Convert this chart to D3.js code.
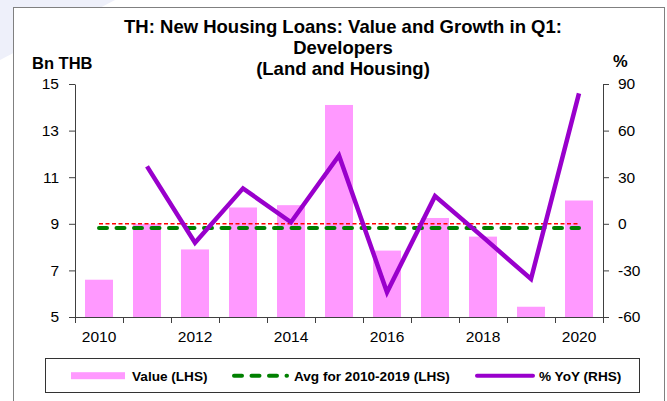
<!DOCTYPE html>
<html>
<head>
<meta charset="utf-8">
<script src="https://cdn.jsdelivr.net/npm/d3@7"></script>
<style>
  body { margin: 0; background: #fff; }
  text { font-family: "Liberation Sans", Arial, sans-serif; fill: #000; }
  .axis path, .axis line { stroke: #404040; }
  .axis text { font-size: 15.5px; }
</style>
</head>
<body>
<div id="main"></div>
<script>
const years = [2010, 2011, 2012, 2013, 2014, 2015, 2016, 2017, 2018, 2019, 2020];
const valueLHS = [6.6, 9.0, 7.9, 9.7, 9.8, 14.1, 7.85, 9.25, 8.45, 5.44, 10.0];
const yoyRHS = [null, 37, -12.2, 22.8, 1.0, 44, -44, 17.8, -8.6, -35.5, 84];
const avgLHS = 8.82;   // avg for 2010-2019
const leftTicks = [5, 7, 9, 11, 13, 15];
const rightTicks = [-60, -30, 0, 30, 60, 90];
const yearLabels = [2010, 2012, 2014, 2016, 2018, 2020];
const titleLines = ["TH: New Housing Loans: Value and Growth in Q1:", "Developers", "(Land and Housing)"];
const legendItems = ["Value (LHS)", "Avg for 2010-2019 (LHS)", "% YoY (RHS)"];

const ctx = {
    w: 667,
    h: 401,
    left: 75,
    right: 603,
    top: 84,
    bottom: 317,
    BAR_COLOR: "#FF99FF",
    AVG_COLOR: "#008000",
    YOY_COLOR: "#9900CC",
};

const svg = d3.select("#main").append("svg")
              .attr("width", ctx.w)
              .attr("height", ctx.h);

// faint background decoration at top-left
svg.append("polygon")
   .attr("points", "0,0 115,0 0,60")
   .attr("fill", "#EEF0FA");

// outer chart frame
svg.append("rect")
   .attr("x", 13.5).attr("y", 7.5)
   .attr("width", 651).attr("height", 410)
   .attr("fill", "#fff")
   .attr("stroke", "#808080");

const x = d3.scaleBand().domain(years)
            .range([ctx.left, ctx.right])
            .paddingInner(0.417).paddingOuter(0.2085);
const xEdge = d3.scaleLinear().domain([0, years.length]).range([ctx.left, ctx.right]);
const yL = d3.scaleLinear().domain([5, 15]).range([ctx.bottom, ctx.top]);
const yR = d3.scaleLinear().domain([-60, 90]).range([ctx.bottom, ctx.top]);
const cx = (yr) => x(yr) + x.bandwidth() / 2;
const plain = (d) => String(d);  // keep ascii hyphen for negatives

// bars
svg.append("g").selectAll("rect")
   .data(years)
   .enter().append("rect")
   .attr("x", (d) => x(d))
   .attr("width", x.bandwidth())
   .attr("y", (d, i) => yL(valueLHS[i]))
   .attr("height", (d, i) => yL(5) - yL(valueLHS[i]))
   .attr("fill", ctx.BAR_COLOR);

// red zero line of RHS
svg.append("line")
   .attr("x1", cx(years[0])).attr("x2", cx(years[years.length - 1]))
   .attr("y1", yR(0)).attr("y2", yR(0))
   .attr("stroke", "#FF0000").attr("stroke-width", 1.5)
   .attr("stroke-dasharray", "4,2.5");

// average line
svg.append("line")
   .attr("x1", cx(years[0])).attr("x2", cx(years[years.length - 1]))
   .attr("y1", yL(avgLHS)).attr("y2", yL(avgLHS))
   .attr("stroke", ctx.AVG_COLOR).attr("stroke-width", 4)
   .attr("stroke-linecap", "round")
   .attr("stroke-dasharray", "8,9.5");

// yoy line
const yoyPts = years.map((d, i) => [d, yoyRHS[i]]).filter((d) => d[1] !== null);
svg.append("path")
   .datum(yoyPts)
   .attr("fill", "none")
   .attr("stroke", ctx.YOY_COLOR)
   .attr("stroke-width", 4.5)
   .attr("stroke-linejoin", "miter")
   .attr("d", d3.line().x((d) => cx(d[0])).y((d) => yR(d[1])));

// axes
svg.append("g").attr("class", "axis")
   .attr("transform", `translate(${ctx.left},0)`)
   .call(d3.axisLeft(yL).tickValues(leftTicks).tickFormat(plain)
           .tickSize(6).tickSizeOuter(0).tickPadding(10));
svg.append("g").attr("class", "axis")
   .attr("transform", `translate(${ctx.right},0)`)
   .call(d3.axisRight(yR).tickValues(rightTicks).tickFormat(plain)
           .tickSize(6).tickSizeOuter(0).tickPadding(9));
svg.append("g").attr("class", "axis")
   .attr("transform", `translate(0,${ctx.bottom})`)
   .call(d3.axisBottom(xEdge).tickValues(d3.range(0, years.length + 1))
           .tickFormat("").tickSize(6).tickSizeOuter(0));
const xl = svg.append("g").attr("class", "axis")
   .attr("transform", `translate(0,${ctx.bottom})`)
   .call(d3.axisBottom(x).tickValues(yearLabels).tickSize(0).tickPadding(14));
xl.select(".domain").remove();

// title and axis labels
svg.append("g").selectAll("text")
   .data(titleLines)
   .enter().append("text")
   .attr("x", 343)
   .attr("y", (d, i) => 33 + i * 21)
   .attr("text-anchor", "middle")
   .attr("font-weight", "bold")
   .attr("font-size", "18.5px")
   .text((d) => d);

svg.append("text").attr("x", 32).attr("y", 69)
   .attr("font-weight", "bold").attr("font-size", "16.5px").text("Bn THB");
svg.append("text").attr("x", 613).attr("y", 67)
   .attr("font-weight", "bold").attr("font-size", "16.5px").text("%");

// legend
const lg = svg.append("g");
lg.append("rect").attr("x", 45.5).attr("y", 358.5)
  .attr("width", 594).attr("height", 34)
  .attr("fill", "#fff").attr("stroke", "#333");
const legY = 375.7;
lg.append("rect").attr("x", 71).attr("y", legY - 3.5)
  .attr("width", 54).attr("height", 7).attr("fill", ctx.BAR_COLOR);
lg.append("line").attr("x1", 234).attr("x2", 287).attr("y1", legY).attr("y2", legY)
  .attr("stroke", ctx.AVG_COLOR).attr("stroke-width", 4).attr("stroke-linecap", "round")
  .attr("stroke-dasharray", "8,9.5");
lg.append("line").attr("x1", 477).attr("x2", 533).attr("y1", legY).attr("y2", legY)
  .attr("stroke", ctx.YOY_COLOR).attr("stroke-width", 4).attr("stroke-linecap", "round");
const legX = [132, 294, 539];
lg.selectAll("text.leg")
  .data(legendItems)
  .enter().append("text")
  .attr("class", "leg")
  .attr("x", (d, i) => legX[i])
  .attr("y", 380.5)
  .attr("font-weight", "bold")
  .attr("font-size", "13.6px")
  .text((d) => d);
</script>
</body>
</html>
